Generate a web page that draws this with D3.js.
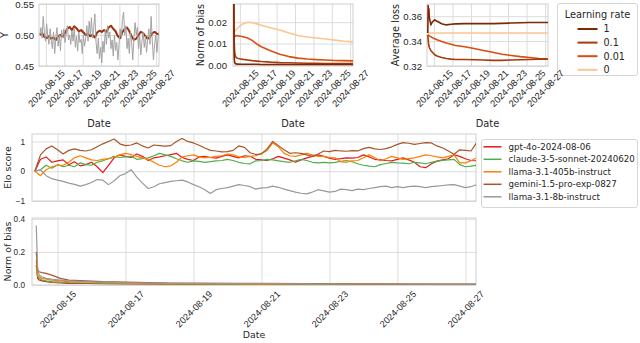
<!DOCTYPE html>
<html>
<head>
<meta charset="utf-8">
<script src="https://cdn.jsdelivr.net/npm/d3@7/dist/d3.min.js"></script>
<style>
  body { margin: 0; background: #fff; }
  svg { font-family: "DejaVu Sans", sans-serif; }
  text { fill: #262626; }
</style>
</head>
<body>
<svg width="640" height="343"></svg>
<script>
// ---- data ----
const tickDays = ["2024-08-15", "2024-08-17", "2024-08-19", "2024-08-21", "2024-08-23", "2024-08-25", "2024-08-27"];
const startStamp = "2024-08-14 08:00";

// panel 1: observed Y (every 3h) and prediction (every 6h)
const yObsStep = 3;
const yObs = [
  0.500, 0.512, 0.495, 0.530, 0.505, 0.490, 0.518, 0.498, 0.485, 0.510,
  0.492, 0.478, 0.505, 0.470, 0.496, 0.512, 0.482, 0.500, 0.475, 0.508,
  0.495, 0.510, 0.488, 0.503, 0.515, 0.492, 0.500, 0.485, 0.507, 0.490,
  0.512, 0.480, 0.498, 0.474, 0.505, 0.488, 0.493, 0.470, 0.500, 0.482,
  0.495, 0.515, 0.490, 0.522, 0.500, 0.528, 0.495, 0.512, 0.534, 0.488,
  0.470, 0.495, 0.462, 0.480, 0.455, 0.490, 0.472, 0.508, 0.485, 0.515,
  0.495, 0.505, 0.478, 0.492, 0.466, 0.500, 0.475, 0.488, 0.460, 0.485,
  0.510, 0.495, 0.525, 0.537, 0.500, 0.515, 0.478, 0.495, 0.470, 0.505,
  0.488, 0.460, 0.495, 0.520, 0.500, 0.512, 0.478, 0.498, 0.468, 0.490,
  0.505, 0.480, 0.498, 0.472, 0.495, 0.510, 0.485, 0.530, 0.490, 0.460,
  0.485, 0.500, 0.472, 0.495, 0.505
];
const yPredStep = 6;
const yPred = [
  0.500, 0.503, 0.497, 0.495, 0.498, 0.494, 0.496, 0.492, 0.498, 0.500,
  0.497, 0.503, 0.510, 0.513, 0.508, 0.514, 0.511, 0.506, 0.508, 0.504,
  0.500, 0.502, 0.498, 0.500, 0.496, 0.504, 0.507, 0.505, 0.508, 0.505,
  0.512, 0.515, 0.510, 0.506, 0.498, 0.495, 0.505, 0.510, 0.512, 0.506,
  0.498, 0.492, 0.494, 0.500, 0.505, 0.503, 0.498, 0.494, 0.497, 0.503,
  0.505, 0.502, 0.501
];

// panels 2 and 3: learning rate curves (hours since start)
const lrLabels = ["1", "0.1", "0.01", "0"];
const lrHours = [0, 1, 2, 3, 4, 6, 8, 12, 18, 24, 36, 48, 60, 72, 96, 120, 144, 168, 192, 216, 240, 264, 288, 312];
const normLr1 = [0.034, 0.004, 0.0015, 0.0009, 0.0006, 0.0005, 0.0004, 0.0004, 0.0003, 0.0003, 0.0003, 0.0003, 0.0003, 0.0002, 0.0002, 0.0002, 0.0002, 0.0002, 0.0002, 0.0002, 0.0002, 0.0002, 0.0002, 0.0002];
const normLr01 = [0.034, 0.012, 0.007, 0.005, 0.0042, 0.0036, 0.0032, 0.003, 0.0028, 0.0026, 0.0023, 0.002, 0.0018, 0.0016, 0.0013, 0.0011, 0.001, 0.0009, 0.0008, 0.0008, 0.0007, 0.0007, 0.0006, 0.0006];
const normLr001 = [0.016, 0.0145, 0.0138, 0.0135, 0.0134, 0.0136, 0.0138, 0.0136, 0.0134, 0.0132, 0.0126, 0.0115, 0.0098, 0.0085, 0.0066, 0.005, 0.0039, 0.0032, 0.0028, 0.0025, 0.0023, 0.0021, 0.002, 0.0019];
const normLr0 = [0.015, 0.0155, 0.016, 0.0158, 0.0162, 0.0165, 0.0168, 0.0175, 0.0185, 0.0192, 0.0200, 0.0198, 0.0192, 0.0186, 0.0174, 0.0163, 0.0149, 0.0138, 0.0131, 0.0126, 0.0121, 0.0116, 0.0111, 0.0108];
const lossLr1 = [0.3465, 0.3685, 0.362, 0.366, 0.359, 0.356, 0.353, 0.3555, 0.357, 0.356, 0.354, 0.353, 0.3535, 0.3538, 0.354, 0.354, 0.354, 0.354, 0.3542, 0.3545, 0.3548, 0.355, 0.355, 0.355];
const lossLr01 = [0.345, 0.341, 0.338, 0.336, 0.335, 0.3335, 0.3325, 0.331, 0.329, 0.328, 0.3268, 0.326, 0.3255, 0.3252, 0.3252, 0.325, 0.3248, 0.3245, 0.3245, 0.3248, 0.325, 0.3252, 0.3255, 0.3255];
const lossLr001 = [0.345, 0.3448, 0.3446, 0.3444, 0.3442, 0.3438, 0.3435, 0.3428, 0.3418, 0.341, 0.3396, 0.3385, 0.3375, 0.3365, 0.3355, 0.334, 0.3325, 0.331, 0.3295, 0.3285, 0.3275, 0.3268, 0.326, 0.3255];
const lossLr0 = [0.3465, 0.3465, 0.3465, 0.3465, 0.3465, 0.3465, 0.3465, 0.3465, 0.3465, 0.3465, 0.3465, 0.3465, 0.3465, 0.3465, 0.3465, 0.3465, 0.3465, 0.3465, 0.3465, 0.3465, 0.3465, 0.3465, 0.3465, 0.3465];

// middle: Elo score per model (every 4h)
const models = ["gpt-4o-2024-08-06", "claude-3-5-sonnet-20240620", "llama-3.1-405b-instruct", "gemini-1.5-pro-exp-0827", "llama-3.1-8b-instruct"];
const eloStep = 4;
const eloGpt = [
  0.0, 0.4, 0.48, 0.3, 0.35, 0.38, 0.22, 0.32, 0.18, 0.22,
  0.3, 0.15, -0.05, 0.2, 0.45, 0.55, 0.5, 0.46, 0.58, 0.5,
  0.36, 0.45, 0.48, 0.52, 0.56, 0.6, 0.46, 0.4, 0.36, 0.48,
  0.5, 0.46, 0.44, 0.5, 0.55, 0.5, 0.45, 0.52, 0.5, 0.4,
  0.38, 0.36, 0.42, 0.5, 0.44, 0.38, 0.3, 0.38, 0.45, 0.5,
  0.55, 0.5, 0.44, 0.4, 0.42, 0.45, 0.44, 0.46, 0.55, 0.48,
  0.4, 0.38, 0.36, 0.35, 0.4, 0.45, 0.38, 0.3, 0.15, 0.12,
  0.25, 0.34, 0.38, 0.42, 0.55, 0.5, 0.42, 0.36, 0.35
];
const eloClaude = [
  0.0, 0.05, 0.2, 0.1, 0.22, 0.15, 0.2, 0.15, 0.28, 0.22,
  0.2, 0.3, 0.35, 0.42, 0.5, 0.46, 0.48, 0.5, 0.4, 0.42,
  0.45, 0.52, 0.6, 0.55, 0.5, 0.42, 0.35, 0.3, 0.35, 0.33,
  0.3, 0.32, 0.35, 0.36, 0.4, 0.36, 0.3, 0.26, 0.25, 0.35,
  0.36, 0.4, 0.38, 0.35, 0.32, 0.3, 0.35, 0.4, 0.36, 0.3,
  0.28, 0.3, 0.28, 0.3, 0.33, 0.36, 0.32, 0.25, 0.2, 0.17,
  0.15, 0.22, 0.26, 0.3, 0.28, 0.27, 0.25, 0.3, 0.28, 0.25,
  0.3, 0.34, 0.36, 0.38, 0.4, 0.22, 0.15, 0.17, 0.2
];
const eloLlama405 = [
  0.0, -0.15, 0.05, 0.15, 0.2, 0.2, 0.3, 0.45, 0.52, 0.45,
  0.38, 0.36, 0.4, 0.42, 0.47, 0.55, 0.6, 0.56, 0.5, 0.45,
  0.4, 0.3, 0.2, 0.15, 0.18, 0.3, 0.48, 0.52, 0.55, 0.48,
  0.45, 0.47, 0.5, 0.52, 0.58, 0.55, 0.48, 0.46, 0.5, 0.52,
  0.6, 0.7, 0.95, 0.82, 0.6, 0.52, 0.5, 0.55, 0.6, 0.55,
  0.5, 0.5, 0.46, 0.45, 0.32, 0.3, 0.35, 0.36, 0.45, 0.55,
  0.45, 0.35, 0.42, 0.5, 0.45, 0.4, 0.42, 0.45, 0.5, 0.55,
  0.52, 0.48, 0.45, 0.5, 0.55, 0.28, 0.28, 0.35, 0.45
];
const eloGemini = [
  0.0, 0.55, 0.75, 0.85, 0.72, 0.58, 0.7, 0.75, 0.7, 0.68,
  0.72, 0.82, 0.92, 1.0, 1.08, 0.92, 0.86, 0.88, 0.95, 0.85,
  0.78, 0.88, 0.86, 0.84, 0.86, 1.0, 1.1, 1.0, 0.95, 0.87,
  0.78, 0.7, 0.68, 0.65, 0.66, 0.7, 0.85, 0.8, 0.62, 0.56,
  0.58, 0.75, 1.0, 0.86, 0.72, 0.6, 0.62, 0.6, 0.55, 0.5,
  0.58, 0.68, 0.66, 0.7, 0.68, 0.67, 0.69, 0.68, 0.76, 0.8,
  0.75, 0.73, 0.76, 0.82, 0.9, 0.96, 0.94, 0.9, 0.93, 0.96,
  0.95, 0.85, 0.78, 0.68, 0.57, 0.72, 0.7, 0.68, 0.96
];
const eloLlama8 = [
  0.0, 0.05, -0.15, -0.25, -0.3, -0.34, -0.4, -0.44, -0.5, -0.45,
  -0.38, -0.28, -0.3, -0.45, -0.32, -0.15, -0.08, 0.05, -0.2, -0.4,
  -0.58, -0.52, -0.42, -0.38, -0.34, -0.32, -0.3, -0.36, -0.45, -0.52,
  -0.62, -0.75, -0.62, -0.58, -0.55, -0.5, -0.45, -0.48, -0.52, -0.6,
  -0.56, -0.55, -0.5, -0.54, -0.6, -0.65, -0.7, -0.74, -0.76, -0.7,
  -0.62, -0.66, -0.7, -0.68, -0.6, -0.62, -0.65, -0.6, -0.62, -0.58,
  -0.55, -0.52, -0.5, -0.55, -0.52, -0.55, -0.52, -0.5, -0.52, -0.55,
  -0.52, -0.5, -0.48, -0.46, -0.45, -0.5, -0.55, -0.52, -0.45
];

// bottom: norm of bias per model (hours since start)
const biasHours = [1, 2, 3, 5, 8, 12, 18, 24, 36, 48, 72, 96, 144, 192, 240, 288, 312];
const biasGpt = [0.12, 0.04, 0.03, 0.025, 0.02, 0.015, 0.012, 0.01, 0.009, 0.008, 0.006, 0.005, 0.004, 0.003, 0.003, 0.003, 0.003];
const biasClaude = [0.1, 0.05, 0.04, 0.03, 0.025, 0.02, 0.017, 0.014, 0.012, 0.01, 0.008, 0.006, 0.005, 0.004, 0.004, 0.003, 0.003];
const biasLlama405 = [0.15, 0.06, 0.05, 0.04, 0.035, 0.03, 0.025, 0.02, 0.018, 0.014, 0.01, 0.008, 0.006, 0.005, 0.004, 0.004, 0.004];
const biasGemini = [0.2, 0.09, 0.08, 0.075, 0.07, 0.06, 0.04, 0.03, 0.025, 0.02, 0.016, 0.012, 0.01, 0.008, 0.007, 0.006, 0.006];
const biasLlama8 = [0.36, 0.1, 0.06, 0.05, 0.04, 0.035, 0.03, 0.025, 0.02, 0.017, 0.013, 0.01, 0.008, 0.007, 0.006, 0.005, 0.005];

// ---- drawing ----
const lrColors = ["#7f2704", "#a83a0b", "#d94d0d", "#fdc590"];
const modelColors = ["#e41a1c", "#4daf4a", "#ff7f00", "#a65628", "#999999"];
const gridColor = "#dcdcdc";

const parseStamp = d3.timeParse("%Y-%m-%d %H:%M");
const parseDay = d3.timeParse("%Y-%m-%d");
const fmtDay = d3.timeFormat("%Y-%m-%d");
const start = parseStamp(startStamp);
const at = h => d3.timeHour.offset(start, h);
const xDomain = [parseStamp("2024-08-14 06:00"), parseStamp("2024-08-27 07:30")];
const ticks = tickDays.map(parseDay);

const svg = d3.select("svg");
// legends sit underneath so the rotated tick labels stay readable
const legendLayer = svg.append("g");
let clipId = 0;

function panel(opt) {
  const g = svg.append("g").attr("transform", `translate(${opt.left},${opt.top})`);
  const x = d3.scaleTime().domain(xDomain).range([0, opt.width]);
  const y = d3.scaleLinear().domain(opt.yDomain).range([opt.height, 0]);

  // y grid + labels
  const ya = g.append("g")
      .call(d3.axisLeft(y).tickValues(opt.yTicks).tickFormat(opt.yFormat)
        .tickSize(-opt.width).tickPadding(opt.yPad));
  ya.select(".domain").remove();
  ya.selectAll("line").attr("stroke", gridColor);
  ya.selectAll("text").style("font-size", opt.yFont + "px").attr("fill", "#262626");

  // x grid + labels
  const xa = g.append("g").attr("transform", `translate(0,${opt.height})`)
      .call(d3.axisBottom(x).tickValues(ticks).tickFormat(opt.xLabels ? fmtDay : "")
        .tickSize(-opt.height).tickPadding(0));
  xa.select(".domain").remove();
  xa.selectAll("line").attr("stroke", gridColor);
  if (opt.xLabels) {
    xa.selectAll("text")
        .style("font-size", opt.xFont + "px").attr("fill", "#262626")
        .attr("y", 0).attr("dy", "0.35em").attr("text-anchor", "middle")
        .attr("transform", function() {
          const w = this.getComputedTextLength();
          const ext = (w + opt.xFont * 0.75) * Math.SQRT1_2;
          return `translate(0,${opt.xPad + ext / 2}) rotate(-45)`;
        });
  }

  g.append("rect").attr("width", opt.width).attr("height", opt.height)
      .attr("fill", "none").attr("stroke", "#cfcfcf").attr("stroke-width", 1);

  const id = "clip" + (clipId++);
  g.append("clipPath").attr("id", id).append("rect")
      .attr("width", opt.width).attr("height", opt.height);
  const plot = g.append("g").attr("clip-path", `url(#${id})`);

  // axis titles
  g.append("text")
      .attr("transform", `translate(${opt.yTitleX - opt.left},${opt.height / 2}) rotate(-90)`)
      .attr("text-anchor", "middle").attr("dy", "0.35em")
      .style("font-size", opt.titleFont + "px").text(opt.yTitle);
  if (opt.xTitleY) {
    g.append("text")
        .attr("x", opt.width / 2).attr("y", opt.xTitleY - opt.top).attr("dy", "0.35em")
        .attr("text-anchor", "middle")
        .style("font-size", opt.titleFont + "px").text("Date");
  }
  return {plot, x, y};
}

function drawLine(p, data, color, width) {
  const line = d3.line().x(d => p.x(d.t)).y(d => p.y(d.v));
  p.plot.append("path").datum(data)
      .attr("d", line).attr("fill", "none")
      .attr("stroke", color).attr("stroke-width", width)
      .attr("stroke-linejoin", "round");
}

const byStep = (vals, step) => vals.map((v, i) => ({t: at(i * step), v}));
const byHours = (hours, vals) => vals.map((v, i) => ({t: at(hours[i]), v}));

const topOpt = {top: 4, height: 62, yFont: 9.6, xFont: 9.3, xPad: 3, titleFont: 9.8, xLabels: true, xTitleY: 123.5};

// panel 1
const p1 = panel({...topOpt, left: 39, width: 120, yDomain: [0.45, 0.55], yTicks: [0.45, 0.50, 0.55],
  yFormat: d3.format(".2f"), yPad: 5, yTitle: "Y", yTitleX: 5});
drawLine(p1, byStep(yPred, yPredStep), "#9c2f07", 2);
drawLine(p1, byStep(yObs, yObsStep), "#a3a3a3", 1);

// panel 2
const p2 = panel({...topOpt, left: 233, width: 120, yDomain: [-0.0005, 0.0285], yTicks: [0, 0.01, 0.02],
  yFormat: d3.format(".2f"), yPad: 6, yTitle: "Norm of bias", yTitleX: 201});
[normLr0, normLr001, normLr01, normLr1].forEach((vals, k) =>
  drawLine(p2, byHours(lrHours, vals), lrColors[3 - k], 1.6));

// panel 3
const p3 = panel({...topOpt, left: 427, width: 121, yDomain: [0.32, 0.3698], yTicks: [0.32, 0.34, 0.36],
  yFormat: d3.format(".2f"), yPad: 5, yTitle: "Average loss", yTitleX: 396});
[lossLr0, lossLr001, lossLr01, lossLr1].forEach((vals, k) =>
  drawLine(p3, byHours(lrHours, vals), lrColors[3 - k], 1.6));

// learning rate legend
const lg = legendLayer.append("g").attr("transform", "translate(557.5,3.5)");
lg.append("rect").attr("width", 80).attr("height", 72).attr("rx", 2.5)
    .attr("fill", "#fff").attr("stroke", "#d6d6d6");
lg.append("text").attr("x", 40).attr("y", 11.5).attr("dy", "0.35em").attr("text-anchor", "middle")
    .style("font-size", "9.8px").text("Learning rate");
lrLabels.forEach((lab, i) => {
  const yy = 25.5 + i * 13.6;
  lg.append("line").attr("x1", 20).attr("x2", 40).attr("y1", yy).attr("y2", yy)
      .attr("stroke", lrColors[i]).attr("stroke-width", 2);
  lg.append("text").attr("x", 46).attr("y", yy).attr("dy", "0.35em")
      .style("font-size", "9.6px").text(lab);
});

// Elo panel
const midOpt = {left: 32, width: 444, yFont: 8.2, xFont: 9.2, titleFont: 9.4, yPad: 7};
const pm = panel({...midOpt, top: 134, height: 67, yDomain: [-1, 1.25], yTicks: [-1, 0, 1],
  yFormat: d3.format("d"), xLabels: false, yTitle: "Elo score", yTitleX: 8});
[eloGpt, eloClaude, eloLlama405, eloGemini, eloLlama8].forEach((vals, k) =>
  drawLine(pm, byStep(vals, eloStep), modelColors[k], 1.2));

// bias panel
const pb = panel({...midOpt, top: 218, height: 67, yDomain: [0, 0.405], yTicks: [0, 0.2, 0.4],
  yFormat: d3.format(".1f"), xLabels: true, xPad: 5, xTitleY: 335, yTitle: "Norm of bias", yTitleX: 8});
[biasGpt, biasClaude, biasLlama405, biasGemini, biasLlama8].forEach((vals, k) =>
  drawLine(pb, byHours(biasHours, vals), modelColors[k], 1.2));

// model legend
const ml = legendLayer.append("g").attr("transform", "translate(481.5,139.5)");
ml.append("rect").attr("width", 156).attr("height", 68).attr("rx", 2.5)
    .attr("fill", "#fff").attr("stroke", "#d6d6d6");
models.forEach((m, i) => {
  const yy = 7.3 + i * 12.5;
  ml.append("line").attr("x1", 2).attr("x2", 20).attr("y1", yy).attr("y2", yy)
      .attr("stroke", modelColors[i]).attr("stroke-width", 1.5);
  ml.append("text").attr("x", 27).attr("y", yy).attr("dy", "0.35em")
      .style("font-size", "8.7px").text(m);
});
</script>
</body>
</html>
